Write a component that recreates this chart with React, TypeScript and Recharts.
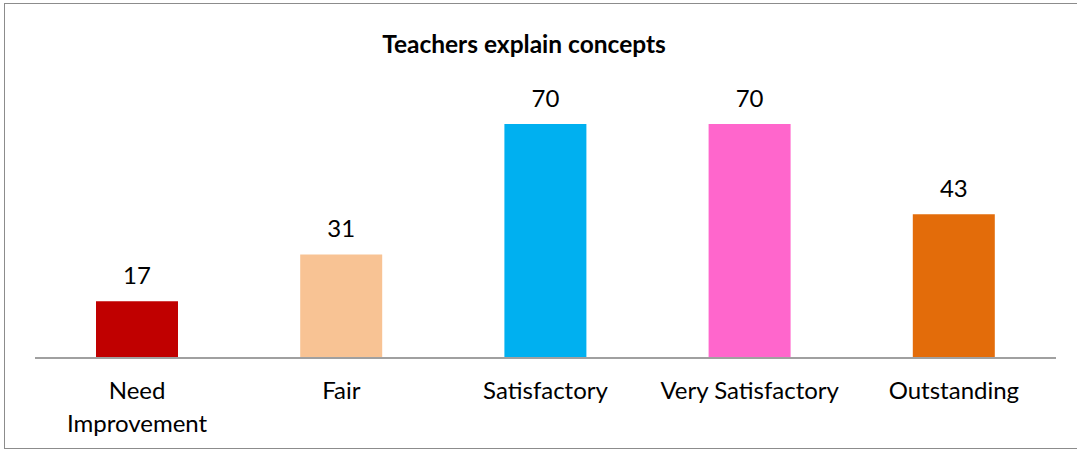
import React from 'react'
import { BarChart, Bar, XAxis, YAxis, Cell, LabelList } from 'recharts'

const categories = ['Need Improvement', 'Fair', 'Satisfactory', 'Very Satisfactory', 'Outstanding']
const counts = [17, 31, 70, 70, 43]
const barColors = ['#C00000', '#F8C394', '#00B0F0', '#FF66CC', '#E36C0A']

const chartData = categories.map((name, i) => ({ name, value: counts[i] }))

const FONT = 'Lato, "Open Sans", sans-serif'

// wrap "Need Improvement" on two lines like the original
const CategoryTick = ({ x, y, payload }: any) => {
  const label: string = payload.value
  const lines = label === 'Need Improvement' ? ['Need', 'Improvement'] : [label]
  return (
    <text x={x} y={y} textAnchor="middle" fill="#000" fontSize={24} fontFamily={FONT}>
      {lines.map((l, i) => (
        <tspan key={i} x={x} dy={i === 0 ? 33 : 33}>{l}</tspan>
      ))}
    </text>
  )
}

const App: React.FC = () => {
  return (
    <div style={{ position: 'absolute', left: 0, top: 0, width: 1077, height: 452, background: '#fff' }}>
      <div style={{
        position: 'absolute', left: 4, top: 3, width: 1090, height: 446,
        border: '1px solid #8c8c8c', boxSizing: 'border-box'
      }} />
      <div style={{
        position: 'absolute', left: 0, top: 29, width: 1048, textAlign: 'center',
        fontFamily: FONT, fontWeight: 700, fontSize: 24.5, color: '#000'
      }}>
        Teachers explain concepts
      </div>
      <BarChart width={1077} height={452} data={chartData}
        margin={{ top: 90.6, right: 21, left: 35, bottom: 0 }} barSize={82}
        style={{ position: 'absolute', left: 0, top: 0 }}>
        <XAxis dataKey="name" tickLine={false} axisLine={{ stroke: '#a0a0a0', strokeWidth: 2 }}
          interval={0} tick={<CategoryTick />} height={94} />
        <YAxis hide domain={[0, 80]} />
        <Bar dataKey="value" isAnimationActive={false}>
          {chartData.map((d, i) => <Cell key={d.name} fill={barColors[i]} />)}
          <LabelList dataKey="value" position="top" offset={17} fill="#000" fontSize={24} fontFamily={FONT} />
        </Bar>
      </BarChart>
    </div>
  )
}

export default App
